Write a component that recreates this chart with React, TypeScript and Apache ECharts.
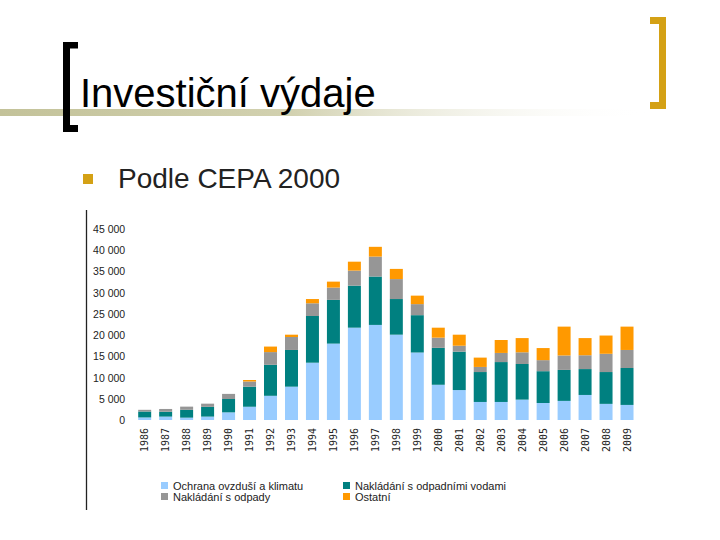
import React, { useEffect, useRef } from "react";
import * as echarts from "echarts";

const years = ["1986","1987","1988","1989","1990","1991","1992","1993","1994","1995","1996","1997","1998","1999","2000","2001","2002","2003","2004","2005","2006","2007","2008","2009"];
const ovzdusi = [600,800,550,800,1800,3150,5700,7850,13500,18000,21750,22400,20100,15900,8300,7050,4250,4250,4800,4000,4500,5900,3800,3550];
const vody = [1400,1150,1850,2300,3150,4700,7300,8650,11000,10300,9900,11400,8400,8800,8700,9050,7050,9400,8400,7500,7300,6100,7500,8700];
const odpady = [400,650,750,750,1200,1250,3000,3050,3000,2900,3550,4700,4700,2600,2400,1400,1200,2150,2750,2600,3400,3250,4300,4250];
const ostatni = [0,0,0,0,0,350,1300,550,1000,1400,2100,2300,2400,2000,2350,2600,2200,3050,3350,2850,6800,4050,4300,5500];
const yMax = 45000;
const yStep = 5000;

const seriesNames = ["Ochrana ovzduší a klimatu", "Nakládání s odpadními vodami", "Nakládání s odpady", "Ostatní"];
const seriesColors = ["#99CCFF", "#008080", "#969696", "#FF9900"];
const seriesData = [ovzdusi, vody, odpady, ostatni];

function fmt(v: number): string {
  if (v === 0) return "0";
  const s = String(v);
  return s.slice(0, s.length - 3) + " " + s.slice(s.length - 3);
}

export default function App() {
  const ref = useRef<HTMLDivElement>(null);
  useEffect(() => {
    if (!ref.current) return;
    const chart = echarts.init(ref.current, undefined, { renderer: "svg" });
    const gold = "#D4A115";
    const legendText = { fontSize: 11, lineHeight: 11, fontFamily: "Liberation Sans", color: "#222" };
    chart.setOption({
      animation: false,
      backgroundColor: "#ffffff",
      grid: { left: 134.2, right: 82.5, top: 229, bottom: 120, containLabel: false },
      xAxis: {
        type: "category",
        data: years,
        axisLine: { show: false },
        axisTick: { show: false },
        axisLabel: {
          rotate: 90,
          margin: 8,
          fontSize: 10,
          fontFamily: "DejaVu Sans Mono",
          color: "#222",
          interval: 0,
        },
      },
      yAxis: {
        type: "value",
        min: 0,
        max: yMax,
        interval: yStep,
        axisLine: { show: false },
        axisTick: { show: false },
        splitLine: { show: false },
        axisLabel: {
          margin: 9,
          fontSize: 10.5,
          fontFamily: "Liberation Sans",
          color: "#222",
          formatter: (v: number) => fmt(v),
        },
      },
      legend: [
        {
          orient: "vertical",
          left: 161,
          top: 480,
          padding: 0,
          itemWidth: 7,
          itemHeight: 7,
          itemGap: 0,
          icon: "rect",
          data: [seriesNames[0], seriesNames[2]],
          textStyle: legendText,
          selectedMode: false,
        },
        {
          orient: "vertical",
          left: 343,
          top: 480,
          padding: 0,
          itemWidth: 7,
          itemHeight: 7,
          itemGap: 0,
          icon: "rect",
          data: [seriesNames[1], seriesNames[3]],
          textStyle: legendText,
          selectedMode: false,
        },
      ],
      series: seriesData.map((d, i) => ({
        name: seriesNames[i],
        type: "bar",
        stack: "total",
        data: d,
        barWidth: 13,
        itemStyle: { color: seriesColors[i] },
      })),
      graphic: [
        {
          type: "rect",
          shape: { x: 0, y: 109, width: 650, height: 7 },
          style: {
            fill: new echarts.graphic.LinearGradient(0, 0, 1, 0, [
              { offset: 0, color: "#C3C299" },
              { offset: 0.45, color: "#D2D1B0" },
              { offset: 1, color: "rgba(255,255,255,0)" },
            ]),
          },
          silent: true,
        },
        { type: "rect", shape: { x: 63, y: 42, width: 7, height: 90 }, style: { fill: "#000" }, silent: true },
        { type: "rect", shape: { x: 63, y: 42, width: 15, height: 6.5 }, style: { fill: "#000" }, silent: true },
        { type: "rect", shape: { x: 63, y: 125, width: 15, height: 7 }, style: { fill: "#000" }, silent: true },
        { type: "rect", shape: { x: 659, y: 17, width: 7, height: 92 }, style: { fill: gold }, silent: true },
        { type: "rect", shape: { x: 650, y: 17, width: 16, height: 7 }, style: { fill: gold }, silent: true },
        { type: "rect", shape: { x: 650, y: 102, width: 16, height: 7 }, style: { fill: gold }, silent: true },
        {
          type: "text",
          x: 80,
          y: 93,
          style: {
            text: "Investiční výdaje",
            font: "40px 'Liberation Sans', Arial, sans-serif",
            fill: "#000",
            verticalAlign: "middle",
            align: "left",
          },
          silent: true,
        },
        { type: "rect", shape: { x: 83, y: 174, width: 10, height: 10 }, style: { fill: gold }, silent: true },
        {
          type: "text",
          x: 118,
          y: 178,
          style: {
            text: "Podle CEPA 2000",
            font: "28px 'Liberation Sans', Arial, sans-serif",
            fill: "#222",
            verticalAlign: "middle",
            align: "left",
          },
          silent: true,
        },
        {
          type: "line",
          shape: { x1: 86.5, y1: 210, x2: 86.5, y2: 510 },
          style: { stroke: "#222", lineWidth: 1.3 },
          silent: true,
        },
      ],
    });
    return () => chart.dispose();
  }, []);
  return (
    <div
      ref={ref}
      style={{ position: "fixed", left: 0, top: 0, width: 720, height: 540 }}
    />
  );
}
